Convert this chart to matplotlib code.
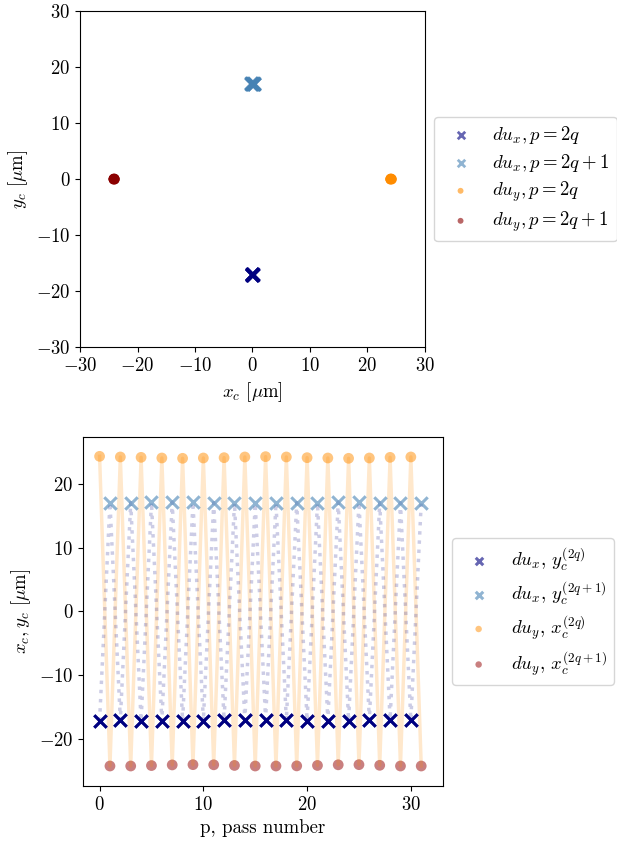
import numpy as np
import matplotlib
matplotlib.use("Agg")
import matplotlib.pyplot as plt
from matplotlib.ticker import MultipleLocator

plt.rcParams['font.family'] = 'serif'
plt.rcParams['font.serif'] = ['cmr10']
plt.rcParams['mathtext.fontset'] = 'cm'
plt.rcParams['axes.formatter.use_mathtext'] = True
plt.rcParams['font.size'] = 13.5

# pass numbers
p_even = np.arange(0, 32, 2)
p_odd = np.arange(1, 32, 2)
p_all = np.arange(0, 32)

# du_x scans: y_c per pass (um)
dux_yc_even = [-17.1, -17.0, -17.1, -17.1, -17.1, -17.1, -17.0, -17.0,
               -16.9, -17.0, -17.1, -17.1, -17.1, -17.0, -16.9, -17.0]
dux_yc_odd = [17.0, 17.0, 17.1, 17.1, 17.1, 17.0, 17.0, 16.9,
              17.0, 17.0, 17.0, 17.1, 17.1, 17.0, 17.0, 17.0]
# du_x scans: x_c per pass (um), close to zero
dux_xc_even = [0.1, 0.0, -0.1, 0.0, 0.1, 0.0, 0.0, -0.1,
               0.0, 0.1, 0.0, -0.1, 0.0, 0.0, 0.1, 0.0]
dux_xc_odd = [0.3, -0.2, 0.1, -0.3, 0.2, 0.0, -0.1, 0.3,
              -0.3, 0.1, 0.2, -0.2, 0.0, 0.3, -0.1, 0.1]

# du_y scans: x_c per pass (um)
duy_xc_even = [24.27, 24.17, 24.11, 24.01, 23.96, 24.01, 24.06, 24.17,
               24.22, 24.17, 24.06, 24.01, 23.96, 24.01, 24.11, 24.17]
duy_xc_odd = [-24.17, -24.17, -24.10, -24.0, -23.96, -23.98, -24.08, -24.17,
              -24.17, -24.15, -24.08, -23.98, -23.96, -24.06, -24.17, -24.17]
# du_y scans: y_c per pass (um), close to zero
duy_yc_even = [0.0, 0.1, 0.0, -0.1, 0.0, 0.0, 0.1, 0.0,
               -0.1, 0.0, 0.0, 0.1, 0.0, -0.1, 0.0, 0.0]
duy_yc_odd = [0.0, -0.1, 0.0, 0.1, 0.0, 0.0, -0.1, 0.0,
              0.1, 0.0, 0.0, -0.1, 0.0, 0.1, 0.0, 0.0]

# full sequences for the connecting lines
dux_yc_all = np.empty(32)
dux_yc_all[0::2] = dux_yc_even
dux_yc_all[1::2] = dux_yc_odd
duy_xc_all = np.empty(32)
duy_xc_all[0::2] = duy_xc_even
duy_xc_all[1::2] = duy_xc_odd

fig = plt.figure(figsize=(6.17, 8.46), dpi=100)

# top: centre positions
ax1 = fig.add_axes([0.1297, 0.5898, 0.559, 0.397])
ax1.scatter(dux_xc_even, dux_yc_even, marker='x', s=80, linewidths=2, color='navy', alpha=0.6,
            label=r'$du_x, p=2q$')
ax1.scatter(dux_xc_odd, dux_yc_odd, marker='x', s=80, linewidths=2, color='steelblue', alpha=0.6,
            label=r'$du_x, p=2q+1$')
ax1.scatter(duy_xc_even, duy_yc_even, marker='o', s=50, color='darkorange', alpha=0.6,
            edgecolors='none', label=r'$du_y, p=2q$')
ax1.scatter(duy_xc_odd, duy_yc_odd, marker='o', s=50, color='darkred', alpha=0.6,
            edgecolors='none', label=r'$du_y, p=2q+1$')
ax1.set_xlim(-30, 30)
ax1.set_ylim(-30, 30)
ax1.set_xlabel(r'$x_c$ [$\mu$m]')
ax1.set_ylabel(r'$y_c$ [$\mu$m]')
ax1.legend(loc='center left', bbox_to_anchor=(1.0, 0.5), markerscale=0.6,
           handletextpad=0.7, labelspacing=0.3)

# bottom: centres vs pass number
ax2 = fig.add_axes([0.1345, 0.0709, 0.5835, 0.4126])
ax2.scatter(p_even, duy_xc_even, marker='o', s=60, color='darkorange', alpha=0.5,
            edgecolors='none', label=r'$du_y$, $x_c^{(2q)}$', zorder=2)
ax2.scatter(p_odd, duy_xc_odd, marker='o', s=60, color='brown', alpha=0.6,
            edgecolors='none', label=r'$du_y$, $x_c^{(2q+1)}$', zorder=2)
ax2.plot(p_all, duy_xc_all, '-', color='darkorange', alpha=0.2, lw=2.5, zorder=3)
ax2.plot(p_all, dux_yc_all, ':', color='navy', alpha=0.2, lw=2.5, zorder=3)
ax2.scatter(p_even, dux_yc_even, marker='x', s=80, linewidths=2.2, color='navy', alpha=0.6,
            label=r'$du_x$, $y_c^{(2q)}$', zorder=4)
ax2.scatter(p_even, dux_yc_even, marker='x', s=80, linewidths=2.2, color='navy', zorder=4)
ax2.scatter(p_odd, dux_yc_odd, marker='x', s=80, linewidths=2.2, color='steelblue', alpha=0.6,
            label=r'$du_x$, $y_c^{(2q+1)}$', zorder=4)
ax2.set_xlim(-1.6, 33.1)
ax2.set_ylim(-27.3, 27.3)
ax2.xaxis.set_major_locator(MultipleLocator(10))
ax2.set_xlabel('p, pass number')
ax2.set_ylabel(r'$x_c, y_c$ [$\mu$m]')
h, l = ax2.get_legend_handles_labels()
order = [2, 3, 0, 1]
ax2.legend([h[i] for i in order], [l[i] for i in order], loc='center left',
           bbox_to_anchor=(1.0, 0.5), markerscale=0.6, labelspacing=0.35,
           handletextpad=0.7)

fig.savefig('out.png', dpi=100)
